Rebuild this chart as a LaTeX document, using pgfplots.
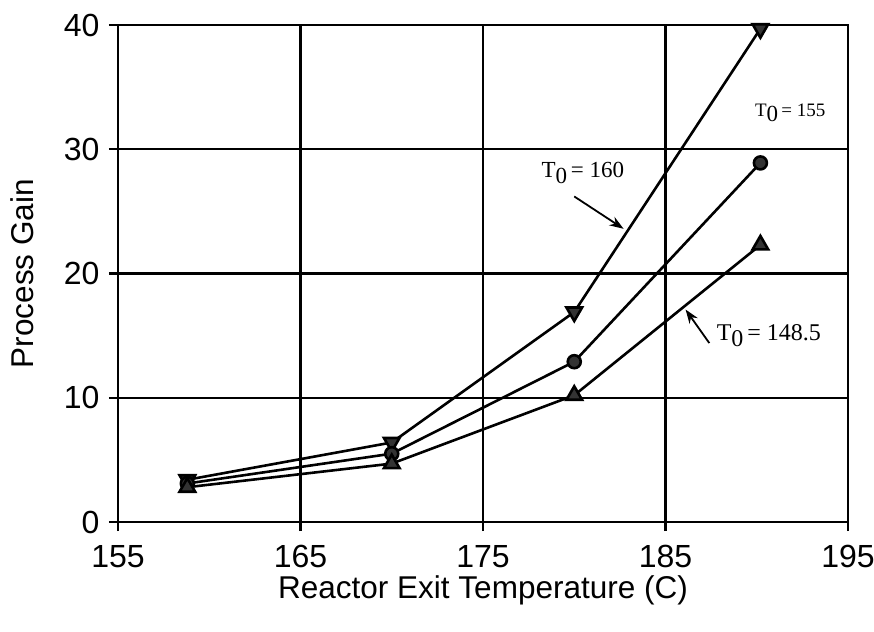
\documentclass[border=0pt]{standalone}
\usepackage{pgfplots}
\pgfplotsset{compat=1.18}
\usetikzlibrary{arrows.meta}
\usepackage{fontspec}
\setmainfont{Liberation Sans}
\newfontfamily\serif{Liberation Serif}
\begin{document}
\begin{tikzpicture}
\begin{axis}[
  scale only axis, width=730pt, height=497pt,
  xmin=155, xmax=195, ymin=0, ymax=40,
  xtick={155,165,175,185,195}, ytick={0,10,20,30,40},
  grid=major, major grid style={black, line width=2.4pt},
  axis line style={line width=2.6pt},
  tick style={black, line width=2.4pt},
  tick align=outside, tick pos=left, major tick length=9pt,
  /pgf/number format/assume math mode=true,
  ticklabel style={font=\fontsize{32}{32}\selectfont},
  xticklabel style={yshift=-11pt},
  yticklabel style={xshift=-6pt},
  xlabel={Reactor Exit Temperature (C)},
  ylabel={Process Gain},
  label style={font=\fontsize{31.5}{36}\selectfont},
  xlabel style={yshift=-1pt},
  ylabel style={yshift=23pt},
  clip=false,
  every axis plot/.append style={black, line width=2.6pt},
]
\addplot[mark=triangle*, mark size=9pt, mark options={rotate=180, fill=black!80}] coordinates {
 (158.8,3.4) (170,6.4) (180,16.9) (190.2,39.7)};
\addplot[mark=*, mark size=6.5pt, mark options={fill=black!80}] coordinates {
 (158.8,3.1) (170,5.5) (180,12.9) (190.2,28.9)};
\addplot[mark=triangle*, mark size=9pt, mark options={fill=black!80}] coordinates {
 (158.8,2.8) (170,4.7) (180,10.2) (190.2,22.3)};
\node[anchor=west, inner sep=0pt, font=\serif\fontsize{23}{23}\selectfont] at (axis cs:178.2,28.1) {T\raisebox{-0.6ex}{0}\,= 160};
\draw[black, line width=1.8pt, -{Stealth[length=14pt,width=10pt]}] (axis cs:180.0,26.2) -- (axis cs:182.7,23.6);
\node[anchor=west, inner sep=0pt, font=\serif\fontsize{19}{19}\selectfont] at (axis cs:189.9,32.9) {T\raisebox{-0.6ex}{\fontsize{23}{23}\selectfont 0}\,= 155};
\node[anchor=west, inner sep=0pt, font=\serif\fontsize{24}{24}\selectfont] at (axis cs:187.8,15.0) {T\raisebox{-0.6ex}{0}\,= 148.5};
\draw[black, line width=1.8pt, -{Stealth[length=14pt,width=10pt]}] (axis cs:187.4,14.4) -- (axis cs:186.1,17.1);
\coordinate (SW) at (rel axis cs:0,0);
\coordinate (NE) at (rel axis cs:1,1);
\end{axis}
\pgfresetboundingbox
\path ([shift={(-118pt,-109pt)}]SW) rectangle ([shift={(26pt,25pt)}]NE);
\end{tikzpicture}
\end{document}
